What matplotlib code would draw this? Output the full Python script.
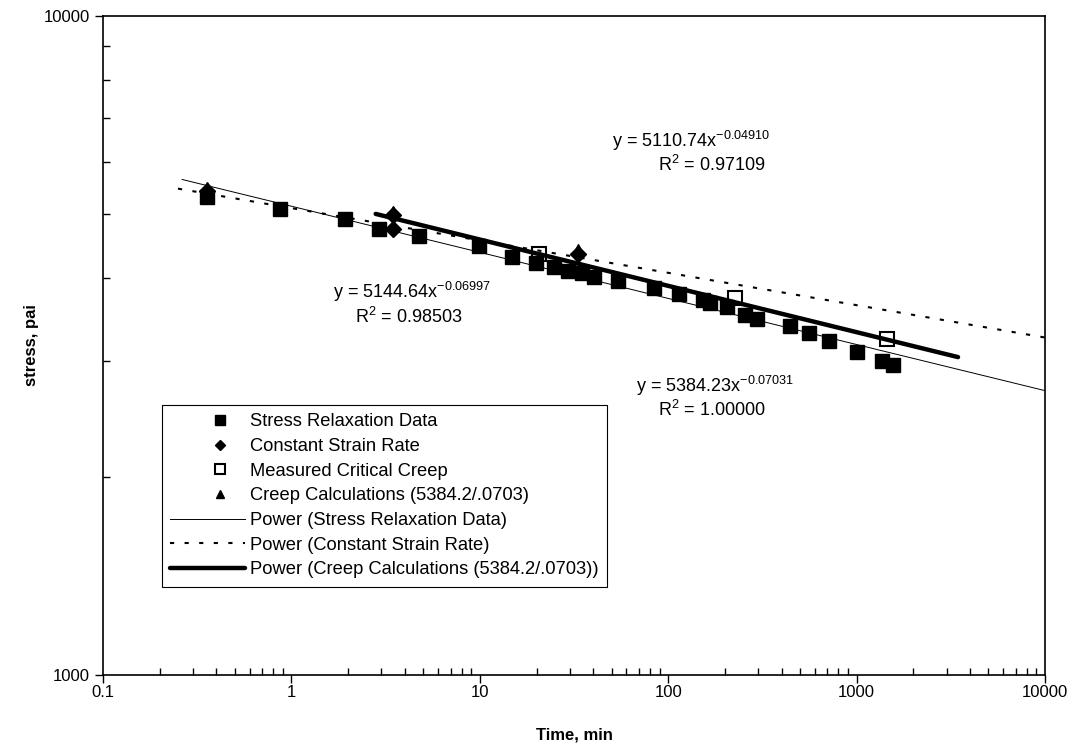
import numpy as np
import matplotlib
matplotlib.use('Agg')
import matplotlib.pyplot as plt
from matplotlib.legend_handler import HandlerLine2D

plt.rcParams['font.family'] = ['Liberation Sans', 'DejaVu Sans']
plt.rcParams['mathtext.fontset'] = 'custom'
plt.rcParams['mathtext.rm'] = 'Liberation Sans'

# Stress relaxation data (time in min, stress)
relax_t = [0.356, 0.870, 1.93, 2.92, 4.76, 9.9, 14.8, 19.9, 24.8, 29.4, 34.9, 40.4,
           54.2, 84.1, 114, 153, 167, 205, 256, 296, 443, 559, 714, 1005, 1364, 1560]
relax_s = [5313, 5095, 4920, 4752, 4637, 4477, 4309, 4220, 4161, 4103, 4074, 4018,
           3962, 3866, 3785, 3707, 3668, 3617, 3518, 3469, 3385, 3304, 3212, 3091, 2996, 2954]

# Constant strain rate
csr_t = [0.356, 3.46, 3.46, 33.2]
csr_s = [5425, 4989, 4752, 4354]

# Measured critical creep
mcc_t = [20.6, 226, 1449]
mcc_s = [4354, 3733, 3235]

# Creep calculations
cc_t = [0.356, 3.46, 33.2]
cc_s = [5483, 5042, 4416]

# power trendlines: coefficient, exponent, x range
fit_relax = (5144.64, -0.06997, 0.263, 10000)
fit_csr = (5110.74, -0.04910, 0.25, 10000)
fit_cc = (5384.23, -0.07031, 2.8, 3450)


def power(fit):
    a, b, x0, x1 = fit
    x = np.logspace(np.log10(x0), np.log10(x1), 200)
    return x, a * x ** b


fig = plt.figure(figsize=(10.73, 7.48), dpi=100)
ax = fig.add_axes([0.096, 0.0976, 0.878, 0.881])

ax.plot(cc_t, cc_s, '^', color='black', markersize=9, linestyle='none',
        label='Creep Calculations (5384.2/.0703)', zorder=3)
ax.plot(relax_t, relax_s, 's', color='black', markersize=9.5, linestyle='none',
        label='Stress Relaxation Data', zorder=4)
ax.plot(csr_t, csr_s, 'D', color='black', markersize=8, linestyle='none',
        label='Constant Strain Rate', zorder=4)
ax.plot(mcc_t, mcc_s, 's', markerfacecolor='none', markeredgecolor='black',
        markeredgewidth=1.5, markersize=10, linestyle='none',
        label='Measured Critical Creep', zorder=4)

x, y = power(fit_relax)
ax.plot(x, y, color='black', lw=0.7, label='Power (Stress Relaxation Data)', zorder=2)
x, y = power(fit_csr)
ax.plot(x, y, color='black', lw=1.5, linestyle=(0, (2, 5)),
        label='Power (Constant Strain Rate)', zorder=2)
x, y = power(fit_cc)
ax.plot(x, y, color='black', lw=3.2, solid_capstyle='round',
        label='Power (Creep Calculations (5384.2/.0703))', zorder=2)

ax.set_xscale('log')
ax.set_yscale('log')
ax.set_xlim(0.1, 10000)
ax.set_ylim(1000, 10000)
ax.set_xticks([0.1, 1, 10, 100, 1000, 10000])
ax.set_xticklabels(['0.1', '1', '10', '100', '1000', '10000'])
ax.set_yticks([1000, 10000])
ax.set_yticklabels(['1000', '10000'])
ax.tick_params(which='major', direction='out', length=6, labelsize=12, width=1)
ax.tick_params(axis='x', which='major', pad=1)
ax.tick_params(which='minor', direction='in', length=5, width=1)
ax.yaxis.set_minor_formatter(matplotlib.ticker.NullFormatter())
for sp in ax.spines.values():
    sp.set_linewidth(1.2)

ax.set_xlabel('Time, min', fontsize=12, fontweight='bold', labelpad=20)
ax.set_ylabel('stress, pai', fontsize=12, fontweight='bold', labelpad=3)

fig.text(612 / 1073, 1 - 141 / 748, r'y = 5110.74x$^{\mathregular{-0.04910}}$', fontsize=13, va='center')
fig.text(658 / 1073, 1 - 165 / 748, r'R$^{\mathregular{2}}$ = 0.97109', fontsize=13, va='center')
fig.text(333 / 1073, 1 - 292 / 748, r'y = 5144.64x$^{\mathregular{-0.06997}}$', fontsize=13, va='center')
fig.text(355 / 1073, 1 - 317 / 748, r'R$^{\mathregular{2}}$ = 0.98503', fontsize=13, va='center')
fig.text(636 / 1073, 1 - 386 / 748, r'y = 5384.23x$^{\mathregular{-0.07031}}$', fontsize=13, va='center')
fig.text(658 / 1073, 1 - 410 / 748, r'R$^{\mathregular{2}}$ = 1.00000', fontsize=13, va='center')

h, l = ax.get_legend_handles_labels()
order = [1, 2, 3, 0, 4, 5, 6]
hmap = {h[i]: HandlerLine2D(xpad=1.3) for i in [0, 1, 2, 3]}
leg = ax.legend([h[i] for i in order], [l[i] for i in order], loc='upper left',
                bbox_to_anchor=(0.0626, 0.4097), borderaxespad=0, fontsize=13.2,
                frameon=True, fancybox=False, edgecolor='black', framealpha=1,
                handlelength=4.1, markerscale=0.7, labelspacing=0.42,
                handletextpad=0.25, borderpad=0.45, handler_map=hmap)
leg.get_frame().set_linewidth(0.8)

fig.savefig('out.png', dpi=100)
